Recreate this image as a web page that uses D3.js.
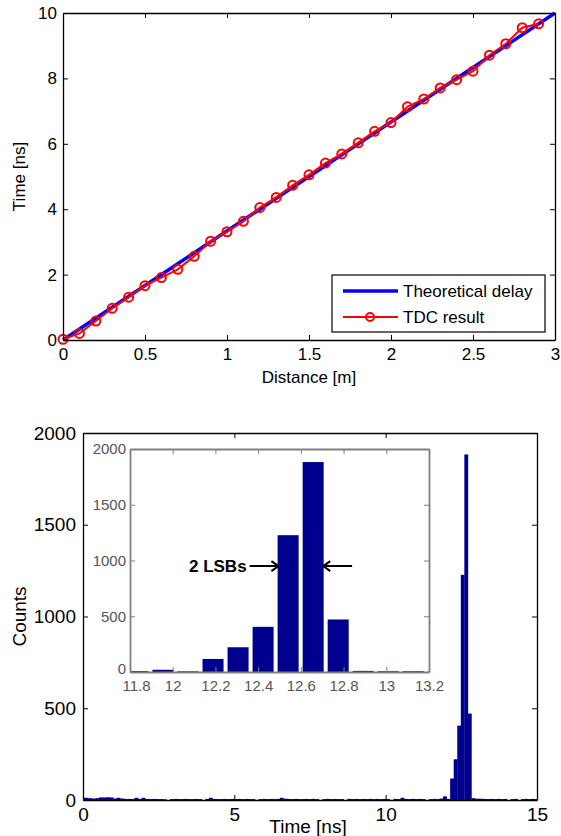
<!DOCTYPE html>
<html>
<head>
<meta charset="utf-8">
<script src="https://cdn.jsdelivr.net/npm/d3@7"></script>
<style>
    body { margin: 0; background: #fff; }
    svg { display: block; font-family: "Liberation Sans", Arial, sans-serif; }
    .axis path, .axis line { stroke: #000; }
    .inset .axis path, .inset .axis line { stroke: #808080; }
    .inset .axis text { fill: #555; }
</style>
</head>
<body>
<svg id="graph"></svg>
<script>
// top plot: distance vs measured time
let distance = [0, 0.1, 0.2, 0.3, 0.4, 0.5, 0.6, 0.7, 0.8, 0.9, 1.0, 1.1, 1.2, 1.3, 1.4,
    1.5, 1.6, 1.7, 1.8, 1.9, 2.0, 2.1, 2.2, 2.3, 2.4, 2.5, 2.6, 2.7, 2.8, 2.9];
let tdcTime = [0.02, 0.2, 0.58, 0.97, 1.31, 1.66, 1.91, 2.16, 2.56, 3.02, 3.31, 3.63, 4.05, 4.36, 4.73,
    5.05, 5.41, 5.69, 6.03, 6.38, 6.65, 7.13, 7.37, 7.71, 7.96, 8.22, 8.71, 9.06, 9.55, 9.67];
let theoryDistance = [0, 3];
let theoryTime = [0, 10];
let legendLabels = ["Theoretical delay", "TDC result"];

// bottom plot: histogram of TDC codes, one bin per LSB
let lsb = 0.1172;
let codeCounts = [
    12, 12, 10, 8, 10, 14, 14, 15, 14, 8, 12, 8, 6, 6, 5, 12, 6, 12, 6, 5,
    6, 5, 5, 4, 0, 5, 6, 5, 5, 6, 5, 5, 6, 5, 0, 6, 12, 6, 5, 5,
    6, 5, 6, 5, 6, 5, 6, 5, 5, 0, 5, 6, 5, 6, 5, 6, 12, 7, 6, 5,
    6, 5, 5, 6, 5, 6, 5, 0, 5, 6, 5, 6, 5, 5, 0, 6, 5, 6, 5, 6,
    5, 6, 5, 6, 5, 6, 5, 0, 6, 5, 12, 6, 5, 6, 5, 6, 5, 0, 5, 6,
    5, 8, 20, 6, 117, 222, 405, 1227, 1883, 471, 10, 7, 7, 6, 5, 6, 5, 6, 5, 6,
    0, 5, 6, 0, 5, 6, 5, 6, 5
];
let histTicksX = [0, 5, 10, 15];
let histTicksY = [0, 500, 1000, 1500, 2000];
let insetTicksX = [11.8, 12, 12.2, 12.4, 12.6, 12.8, 13, 13.2];
let insetTicksY = [0, 500, 1000, 1500, 2000];
let annotation = {label: "2 LSBs", leftFrom: 12.36, leftTo: 12.495, rightFrom: 12.84, rightTo: 12.705, count: 950};

let bins = codeCounts.map((c, i) => ({time: i * lsb, count: c}));

let svg = d3.select("#graph").attr("width", 561).attr("height", 836);

function boxAxes(g, x, y, w, h, xTicks, yTicks, xFmt, yFmt, pad) {
    g.append("g").attr("class", "axis xaxis")
        .attr("transform", "translate(0," + h + ")")
        .call(d3.axisBottom(x).tickValues(xTicks).tickFormat(xFmt)
            .tickSizeInner(-5).tickSizeOuter(0).tickPadding(pad.x));
    g.append("g").attr("class", "axis yaxis")
        .call(d3.axisLeft(y).tickValues(yTicks).tickFormat(yFmt)
            .tickSizeInner(-5).tickSizeOuter(0).tickPadding(pad.y));
    g.append("g").attr("class", "axis")
        .call(d3.axisTop(x).tickValues(xTicks).tickFormat("")
            .tickSizeInner(-5).tickSizeOuter(0));
    g.append("g").attr("class", "axis")
        .attr("transform", "translate(" + w + ",0)")
        .call(d3.axisRight(y).tickValues(yTicks).tickFormat("")
            .tickSizeInner(-5).tickSizeOuter(0));
    g.selectAll(".axis .domain").attr("stroke-width", 1.3);
}

function drawDelayPlot() {
    let m = {left: 63, top: 13, width: 492, height: 327};
    let x = d3.scaleLinear().domain([0, 3]).range([0, m.width]);
    let y = d3.scaleLinear().domain([0, 10]).range([m.height, 0]);
    let plot = svg.append("g").attr("transform", "translate(" + m.left + "," + m.top + ")");

    let theory = theoryDistance.map((d, i) => [d, theoryTime[i]]);
    let tdc = distance.map((d, i) => [d, tdcTime[i]]);
    let line = d3.line().x(d => x(d[0])).y(d => y(d[1]));

    plot.append("path").datum(theory).attr("d", line)
        .attr("fill", "none").attr("stroke", "#0000ff").attr("stroke-width", 3.5);
    plot.append("path").datum(tdc).attr("d", line)
        .attr("fill", "none").attr("stroke", "#ff0000").attr("stroke-width", 2);
    plot.selectAll(".mark").data(tdc).enter()
        .append("circle").attr("class", "mark")
        .attr("cx", d => x(d[0])).attr("cy", d => y(d[1])).attr("r", 4.5)
        .attr("fill", "none").attr("stroke", "#ff0000").attr("stroke-width", 2);

    boxAxes(plot, x, y, m.width, m.height, d3.range(0, 3.01, 0.5), d3.range(0, 10.1, 2),
        d3.format("~g"), d3.format("~g"), {x: 8, y: 6});
    plot.selectAll(".axis text").attr("font-size", 17).attr("font-family", "Liberation Sans, Arial");

    plot.append("text").attr("x", m.width / 2).attr("y", 370)
        .attr("text-anchor", "middle").attr("font-size", 17).text("Distance [m]");
    plot.append("text").attr("transform", "translate(-38," + m.height / 2 + ") rotate(-90)")
        .attr("text-anchor", "middle").attr("font-size", 17).text("Time [ns]");

    // legend
    let legend = plot.append("g").attr("transform", "translate(269,262)");
    legend.append("rect").attr("width", 213).attr("height", 57)
        .attr("fill", "#fff").attr("stroke", "#000").attr("stroke-width", 1.2);
    let rows = legend.selectAll(".legend").data(legendLabels).enter()
        .append("g").attr("class", "legend")
        .attr("transform", (d, i) => "translate(0," + (16 + 26 * i) + ")");
    rows.append("line").attr("x1", 11).attr("x2", 66)
        .attr("stroke", (d, i) => i === 0 ? "#0000ff" : "#ff0000")
        .attr("stroke-width", (d, i) => i === 0 ? 3.5 : 2);
    rows.filter((d, i) => i === 1).append("circle").attr("cx", 38).attr("r", 4)
        .attr("fill", "none").attr("stroke", "#ff0000").attr("stroke-width", 2);
    rows.append("text").attr("x", 71).attr("dy", "0.36em").attr("font-size", 17).text(d => d);
}

function drawHistogram() {
    let m = {left: 83, top: 433, width: 454, height: 367};
    let x = d3.scaleLinear().domain([0, 15]).range([0, m.width]);
    let y = d3.scaleLinear().domain([0, 2000]).range([m.height, 0]);
    let plot = svg.append("g").attr("transform", "translate(" + m.left + "," + m.top + ")");

    plot.append("clipPath").attr("id", "histClip")
        .append("rect").attr("width", m.width).attr("height", m.height);
    plot.append("g").attr("clip-path", "url(#histClip)")
        .selectAll(".bin").data(bins).enter()
        .append("rect").attr("class", "bin")
        .attr("x", d => x(d.time - lsb / 2))
        .attr("width", x(lsb) - x(0) + 0.3)
        .attr("y", d => y(d.count))
        .attr("height", d => m.height - y(d.count))
        .attr("fill", "#00008f");

    boxAxes(plot, x, y, m.width, m.height, histTicksX, histTicksY,
        d3.format("~g"), d3.format("d"), {x: 8, y: 7});
    plot.selectAll(".axis text").attr("font-size", 19).attr("font-family", "Liberation Sans, Arial");

    plot.append("text").attr("x", 225).attr("y", 400)
        .attr("text-anchor", "middle").attr("font-size", 19).text("Time [ns]");
    plot.append("text").attr("transform", "translate(-57," + m.height / 2 + ") rotate(-90)")
        .attr("text-anchor", "middle").attr("font-size", 19).text("Counts");

    drawInset();
}

function drawInset() {
    let m = {left: 130, top: 449, width: 299, height: 223};
    let x = d3.scaleLinear().domain([11.8, 13.2]).range([0, m.width]);
    let y = d3.scaleLinear().domain([0, 2000]).range([m.height, 0]);
    let inset = svg.append("g").attr("class", "inset")
        .attr("transform", "translate(" + m.left + "," + m.top + ")");

    inset.append("rect").attr("width", m.width).attr("height", m.height).attr("fill", "#fff");
    let shown = bins.filter(d => d.time > 11.8 - lsb && d.time < 13.2 + lsb);
    let bw = (x(lsb) - x(0)) * 0.84;
    inset.append("clipPath").attr("id", "insetClip")
        .append("rect").attr("width", m.width).attr("height", m.height);
    inset.append("g").attr("clip-path", "url(#insetClip)")
        .selectAll(".ibin").data(shown).enter()
        .append("rect").attr("class", "ibin")
        .attr("x", d => x(d.time) - bw / 2)
        .attr("width", bw)
        .attr("y", d => y(d.count))
        .attr("height", d => m.height - y(d.count))
        .attr("fill", "#00008f");

    boxAxes(inset, x, y, m.width, m.height, insetTicksX, insetTicksY,
        d3.format("~g"), d3.format("d"), {x: 8, y: 4});
    inset.selectAll(".axis line").attr("stroke-width", 1);
    inset.selectAll(".axis .domain").attr("stroke-width", 1.8);
    inset.selectAll(".axis text").attr("font-size", 15).attr("font-family", "Liberation Sans, Arial");
    // keep the corner labels ("0" and "11.8") apart
    inset.selectAll(".xaxis text").filter(d => d === 11.8).attr("dx", 6);
    inset.selectAll(".yaxis text").filter(d => d === 0).attr("dy", "0.1em");

    // "2 LSBs" arrows
    let ay = y(annotation.count);
    inset.append("text").attr("x", x(annotation.leftFrom) - 3).attr("y", ay).attr("dy", "0.36em")
        .attr("text-anchor", "end").attr("font-size", 17).attr("font-weight", "bold")
        .text(annotation.label);
    [[annotation.leftFrom, annotation.leftTo], [annotation.rightFrom, annotation.rightTo]].forEach(function (a) {
        let x0 = x(a[0]), x1 = x(a[1]);
        let dir = x1 > x0 ? -1 : 1;
        inset.append("path")
            .attr("d", "M" + x0 + "," + ay + "L" + x1 + "," + ay +
                "M" + (x1 + dir * 7) + "," + (ay - 5) + "L" + x1 + "," + ay + "L" + (x1 + dir * 7) + "," + (ay + 5))
            .attr("fill", "none").attr("stroke", "#000").attr("stroke-width", 2);
    });
}

drawDelayPlot();
drawHistogram();
</script>
</body>
</html>
